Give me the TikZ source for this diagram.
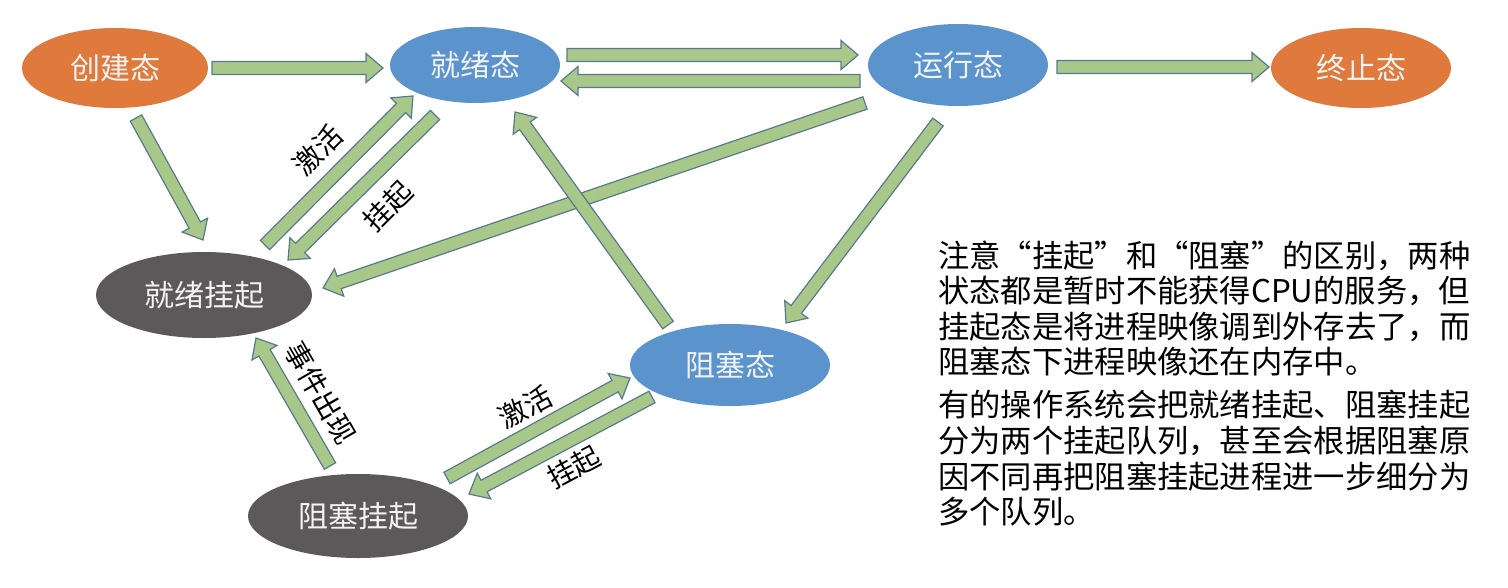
\documentclass[tikz,border=0pt]{standalone}
\usepackage{fontspec}
\setmainfont{Noto Sans CJK SC}
\usetikzlibrary{shapes.geometric,calc}
\definecolor{orangeN}{HTML}{E07A3C}
\definecolor{blueN}{HTML}{5B93CC}
\definecolor{grayN}{HTML}{5D595A}
\definecolor{arrFill}{HTML}{A8C88A}
\definecolor{arrLine}{HTML}{587A8C}
\definecolor{nodeText}{HTML}{F2F2F2}
\tikzset{
  state/.style={ellipse, inner sep=0pt, text=nodeText, font=\fontsize{30}{30}\selectfont},
  orangestate/.style={state, fill=orangeN},
  bluestate/.style={state, fill=blueN},
  graystate/.style={state, fill=grayN},
  blockarr/.style={draw=arrLine, fill=arrFill, line width=1.2pt, line join=miter},
  edgelabel/.style={text=black, font=\fontsize{28}{28}\selectfont, inner sep=0pt},
  notetext/.style={anchor=base west, inner sep=0pt, text=black, font=\fontsize{31.3}{31.3}\selectfont}
}
\newcommand\blockarrow[2]{%
  \path[blockarr] let \p1=(#1), \p2=(#2),
    \n1={atan2(\y2-\y1,\x2-\x1)}, \n2={veclen(\x2-\x1,\y2-\y1)} in
    [shift={(\p1)}, rotate=\n1]
    (0,-6.5) -- ({\n2-17},-6.5) -- ({\n2-17},-14.5) -- (\n2,0)
    -- ({\n2-17},14.5) -- ({\n2-17},6.5) -- (0,6.5) -- cycle;}
\begin{document}
\begin{tikzpicture}[x=1pt,y=1pt]
\useasboundingbox[fill=white] (0,0) rectangle (1508,-587);
% states
\node[orangestate, minimum width=186, minimum height=80] (cj) at (115,-68) {创建态};
\node[bluestate, minimum width=170, minimum height=76] (jx) at (475,-65) {就绪态};
\node[bluestate, minimum width=180, minimum height=82] (yx) at (958,-65) {运行态};
\node[orangestate, minimum width=180, minimum height=80] (zz) at (1361,-68) {终止态};
\node[graystate, minimum width=216, minimum height=86] (jxgq) at (204,-295) {就绪挂起};
\node[bluestate, minimum width=200, minimum height=82] (zs) at (730,-365) {阻塞态};
\node[graystate, minimum width=220, minimum height=84] (zsgq) at (358,-516) {阻塞挂起};
% connector ends
\coordinate (a1s) at (212,-68);   \coordinate (a1e) at (383,-68);
\coordinate (a2s) at (567,-55);   \coordinate (a2e) at (858,-55);
\coordinate (a3s) at (860,-81);   \coordinate (a3e) at (561,-81);
\coordinate (a4s) at (1057,-67);  \coordinate (a4e) at (1269,-67);
\coordinate (a5s) at (136,-118);  \coordinate (a5e) at (203,-240);
\coordinate (a6s) at (265,-245);  \coordinate (a6e) at (413,-96);
\coordinate (a7s) at (435,-115);  \coordinate (a7e) at (288,-260);
\coordinate (a8s) at (865,-103);  \coordinate (a8e) at (323,-288);
\coordinate (a9s) at (938,-122);  \coordinate (a9e) at (786,-323);
\coordinate (a10s) at (668,-325); \coordinate (a10e) at (515,-112);
\coordinate (a11s) at (330,-466); \coordinate (a11e) at (256,-338);
\coordinate (a12s) at (447,-478); \coordinate (a12e) at (630,-378);
\coordinate (a13s) at (652,-397); \coordinate (a13e) at (469,-494);
% connectors
\blockarrow{a1s}{a1e}
\blockarrow{a2s}{a2e}
\blockarrow{a3s}{a3e}
\blockarrow{a4s}{a4e}
\blockarrow{a5s}{a5e}
\blockarrow{a8s}{a8e}
\blockarrow{a10s}{a10e}
\blockarrow{a9s}{a9e}
\blockarrow{a6s}{a6e}
\blockarrow{a7s}{a7e}
\blockarrow{a11s}{a11e}
\blockarrow{a12s}{a12e}
\blockarrow{a13s}{a13e}
% labels
\node[edgelabel, rotate=45] (l1) at (318,-150) {激活};
\node[edgelabel, rotate=45] (l2) at (388,-206) {挂起};
\node[edgelabel, rotate=-60] (l3) at (321,-393) {事件出现};
\node[edgelabel, rotate=28] (l4) at (525,-407) {激活};
\node[edgelabel, rotate=28] (l5) at (574,-467) {挂起};
% note
\node[notetext] (t1) at (938,-267) {注意“挂起”和“阻塞”的区别，两种};
\node[notetext] (t2) at (938,-302) {状态都是暂时不能获得CPU的服务，但};
\node[notetext] (t3) at (938,-338) {挂起态是将进程映像调到外存去了，而};
\node[notetext] (t4) at (938,-373) {阻塞态下进程映像还在内存中。};
\node[notetext] (t5) at (938,-416) {有的操作系统会把就绪挂起、阻塞挂起};
\node[notetext] (t6) at (938,-452) {分为两个挂起队列，甚至会根据阻塞原};
\node[notetext] (t7) at (938,-488) {因不同再把阻塞挂起进程进一步细分为};
\node[notetext] (t8) at (938,-523) {多个队列。};
\end{tikzpicture}
\end{document}
